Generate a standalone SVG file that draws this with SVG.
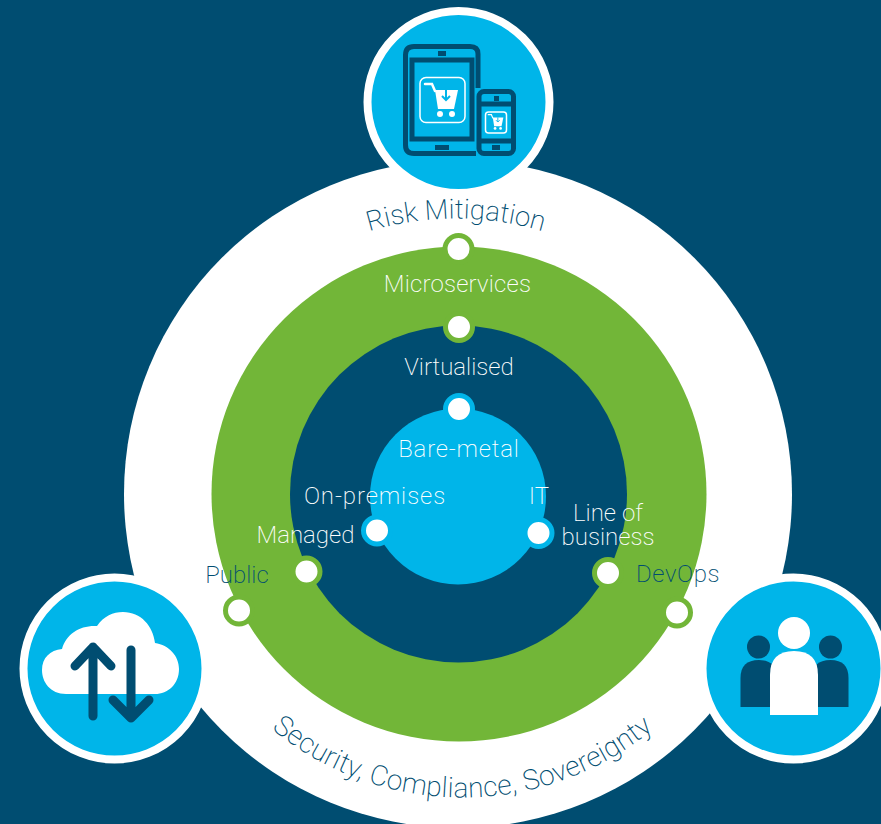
<svg xmlns="http://www.w3.org/2000/svg" width="881" height="824" viewBox="0 0 881 824">
<style>
.t{font-family:"Roboto","Liberation Sans",sans-serif;font-weight:200;font-size:24px;text-anchor:middle}
.c{font-size:28px;fill:#004d71}
.w{fill:#fff}.n{fill:#004d71}.b{fill:#00b5e9}
.dk{fill:none;stroke:#004d71;stroke-width:5}
.ln{fill:none;stroke:#fff;stroke-width:1.5}
.ar{fill:none;stroke:#004d71;stroke-width:9;stroke-linecap:round;stroke-linejoin:round}
.dotg{fill:#fff;stroke:#72b638;stroke-width:5}
.dotb{fill:#fff;stroke:#00b5e9;stroke-width:5}
</style>
<defs>
<path id="top" d="M364 233 A300 300 0 0 1 548 233"/>
<path id="bot" d="M263.500 722 A300 300 0 0 0 661.500 722"/>
<g id="cart"><path d="M-17 -17H-10L-7 -10" fill="none" stroke="#fff" stroke-width="2.500" stroke-linecap="round"/><path d="M-7 -11H16L12 8H-4Z" fill="#fff"/><circle cx="-2" cy="13" r="3" fill="#fff"/><circle cx="10" cy="13" r="3" fill="#fff"/><path d="M4 -11V-2M0 -5L4 -1L8 -5" fill="none" stroke="#00b5e9" stroke-width="2"/></g>
</defs>
<rect width="881" height="824" class="n"/>
<g id="rings">
<circle cx="458" cy="494" r="334" class="w"/>
<circle cx="459" cy="494" r="247.500" fill="#72b638"/>
<circle cx="458.500" cy="494" r="168.500" class="n"/>
<circle cx="458" cy="496.500" r="88" class="b"/>
</g>
<g id="connectors"></g>
<g id="node-mobile">
<circle cx="458.500" cy="102" r="91" class="b" stroke="#fff" stroke-width="8"/>
<path class="dk" d="M478 88V54Q478 46.500 470 46.500H414Q405.500 46.500 405.500 55V145Q405.500 153.500 414 153.500H476"/>
<rect x="412" y="60" width="60" height="79" class="dk"/>
<rect x="438" y="51" width="8" height="5" class="n"/><rect x="435" y="145" width="14" height="5" class="n"/>
<rect x="479" y="91.500" width="34.500" height="62" rx="5" class="dk"/>
<path d="M479 104H514M479 141H514" class="dk" stroke-width="4"/>
<rect x="494" y="96" width="5" height="5" class="n"/><rect x="492" y="145" width="8" height="5" class="n"/>
<rect x="420" y="77.500" width="45" height="45" rx="6" class="ln"/>
<use href="#cart" transform="translate(442 101)"/>
<rect x="485.500" y="112" width="21" height="21" rx="3" class="ln" stroke-width="1"/>
<use href="#cart" transform="translate(496 122.500) scale(.46)"/>
</g>
<g id="node-cloud">
<circle cx="114.500" cy="668.500" r="91" class="b" stroke="#fff" stroke-width="8"/>
<path class="w" d="M66 694C50 694 42 682 42 670C42 658 50 650 62 649C66 634 80 625 97 626C104 616 113 612 123 612C141 612 153 626 155 643C169 645 179 656 179 669C179 684 168 694 155 694Z"/>
<path class="ar" d="M93 716V647M75 666L93 647L111 666"/>
<path class="ar" d="M131 650V718M113 700L131 718L149 700"/>
</g>
<g id="node-people">
<circle cx="793.500" cy="668.500" r="91" class="b" stroke="#fff" stroke-width="8"/>
<circle cx="758.500" cy="647" r="11.500" class="n"/><circle cx="830.500" cy="647" r="11.500" class="n"/>
<path class="n" d="M740.500 707V678Q740.500 660 759 660Q777 660 777 678V707Z"/>
<path class="n" d="M812 707V678Q812 660 830.500 660Q848.500 660 848.500 678V707Z"/>
<circle cx="794" cy="633" r="16" class="w"/>
<path class="w" d="M770 715V675Q770 651 794 651Q818 651 818 675V715Z"/>
</g>
<g id="dots">
<circle cx="458.500" cy="249" r="13.500" class="dotg"/>
<circle cx="459" cy="327" r="13.500" class="dotg"/>
<circle cx="459" cy="409" r="13.500" class="dotb"/>
<circle cx="377" cy="530.500" r="13.500" class="dotb"/>
<circle cx="538.500" cy="533" r="13.500" class="dotb"/>
<circle cx="306.500" cy="571.500" r="13.500" class="dotg"/>
<circle cx="608" cy="573" r="13.500" class="dotg"/>
<circle cx="239" cy="610.500" r="13.500" class="dotg"/>
<circle cx="677" cy="612.500" r="13.500" class="dotg"/>
</g>
<g id="labels">
<text class="t c" style="font-size:27.500px"><textPath href="#top" startOffset="50%">Risk Mitigation</textPath></text>
<text class="t c" letter-spacing=".2"><textPath href="#bot" startOffset="50%">Security, Compliance, Sovereignty</textPath></text>
<text x="457.500" y="292" class="t w" letter-spacing=".2">Microservices</text>
<text x="459" y="375" class="t w">Virtualised</text>
<text x="459" y="457" class="t w" letter-spacing=".8">Bare-metal</text>
<text x="375" y="504" class="t w" letter-spacing=".9">On-premises</text>
<text x="539" y="504" class="t w">IT</text>
<text x="305.500" y="543" class="t w">Managed</text>
<text x="608" y="521" class="t w">Line of</text>
<text x="608" y="545" class="t w">business</text>
<text x="237" y="583" class="t n">Public</text>
<text x="678" y="582" class="t n" letter-spacing=".6">DevOps</text>
</g>
</svg>
